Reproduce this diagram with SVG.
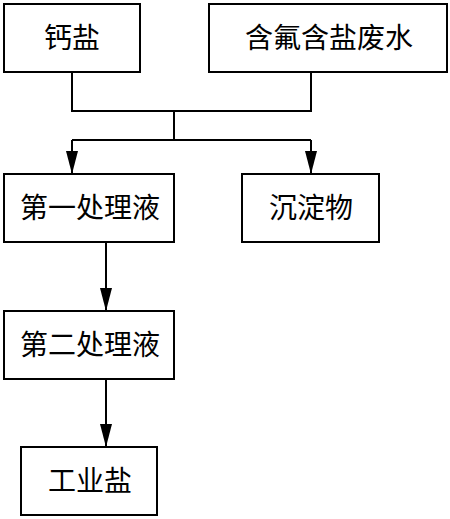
<svg xmlns="http://www.w3.org/2000/svg" width="450" height="519" viewBox="0 0 450 519">
<style>
.box{fill:#fff;stroke:#000;stroke-width:2}
.t{font-family:"Liberation Serif","Noto Sans CJK SC",serif;font-size:28px;fill:#000;text-anchor:middle;dominant-baseline:central}
.c{fill:none;stroke:#000;stroke-width:2}
</style>
<defs>
<marker id="arr" markerUnits="userSpaceOnUse" markerWidth="14" markerHeight="24" refX="7" refY="23" orient="0" viewBox="0 0 14 24">
<path d="M1,0 L13,0 L7,23 Z" fill="#000"/>
</marker>
</defs>
<g id="connectors">
<path class="c" d="M72,72 V111 H311 V72"/>
<path class="c" d="M174,111 V140"/>
<path class="c" d="M72,140 H311"/>
<path class="c" d="M72,140 V174" marker-end="url(#arr)"/>
<path class="c" d="M311,140 V174" marker-end="url(#arr)"/>
<path class="c" d="M106,242 V311" marker-end="url(#arr)"/>
<path class="c" d="M106,379 V447" marker-end="url(#arr)"/>
</g>
<g id="n1"><rect class="box" x="4" y="4" width="136" height="68"/><text class="t" x="72" y="38">钙盐</text></g>
<g id="n2"><rect class="box" x="209" y="4" width="238" height="68"/><text class="t" x="329" y="38">含氟含盐废水</text></g>
<g id="n3"><rect class="box" x="4" y="174" width="170" height="68"/><text class="t" x="90" y="208">第一处理液</text></g>
<g id="n4"><rect class="box" x="242" y="174" width="137" height="68"/><text class="t" x="311" y="208">沉淀物</text></g>
<g id="n5"><rect class="box" x="4" y="311" width="170" height="68"/><text class="t" x="90" y="345">第二处理液</text></g>
<g id="n6"><rect class="box" x="21" y="447" width="136" height="68"/><text class="t" x="90" y="481">工业盐</text></g>
</svg>
